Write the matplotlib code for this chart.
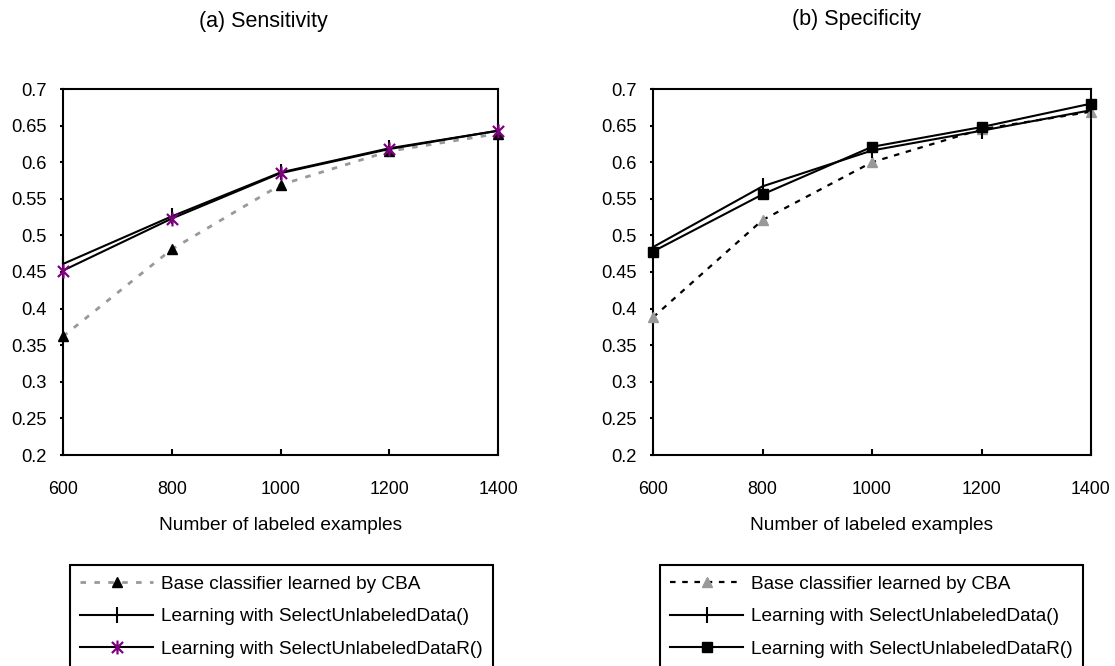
import numpy as np
import matplotlib
matplotlib.use("Agg")
import matplotlib.pyplot as plt
from matplotlib.path import Path
from matplotlib.ticker import FuncFormatter, FixedLocator

plt.rcParams['font.family'] = ['Liberation Sans', 'DejaVu Sans']

# ---------------- data ----------------
n_labeled = [600, 800, 1000, 1200, 1400]

sens_cba = [0.362, 0.481, 0.569, 0.615, 0.639]
sens_sud = [0.461, 0.526, 0.586, 0.619, 0.643]
sens_sudr = [0.452, 0.523, 0.585, 0.618, 0.643]

spec_cba = [0.388, 0.521, 0.600, 0.645, 0.669]
spec_sud = [0.484, 0.567, 0.616, 0.643, 0.671]
spec_sudr = [0.478, 0.556, 0.621, 0.648, 0.680]

legend_labels = ["Base classifier learned by CBA",
                 "Learning with SelectUnlabeledData()",
                 "Learning with SelectUnlabeledDataR()"]
titles = ["(a) Sensitivity", "(b) Specificity"]
xlabel = "Number of labeled examples"
yticks = [0.2, 0.25, 0.3, 0.35, 0.4, 0.45, 0.5, 0.55, 0.6, 0.65, 0.7]

# ---------------- layout ----------------
W, H = 1115, 666
fig = plt.figure(figsize=(W / 100, H / 100), dpi=100)

def fx(px):
    return px / W

def fy(py):
    return 1 - py / H

ax1 = fig.add_axes([fx(63), fy(455), fx(498 - 63), (455 - 89) / H])
ax2 = fig.add_axes([fx(653), fy(455), fx(1091 - 653), (455 - 89) / H])

# asterisk marker (X plus vertical bar)
ast_path = Path([(-1, -1), (1, 1), (-1, 1), (1, -1), (0, -1.25), (0, 1.25)],
                [Path.MOVETO, Path.LINETO, Path.MOVETO, Path.LINETO,
                 Path.MOVETO, Path.LINETO])

purple = '#800080'
gray = '#999999'

# left panel
h1a, = ax1.plot(n_labeled, sens_cba, color=gray, lw=2.0, ls=(0, (2.0, 3.0)),
                marker='^', ms=7.5, mfc='black', mec='black', clip_on=False, zorder=3)
h1b, = ax1.plot(n_labeled, sens_sud, color='black', lw=1.5,
                marker='|', ms=12, mew=1.5, mec='black', clip_on=False, zorder=4)
h1c, = ax1.plot(n_labeled, sens_sudr, color='black', lw=1.5,
                marker=ast_path, ms=10, mew=1.6, mec=purple, mfc='none',
                clip_on=False, zorder=5)

# right panel
h2a, = ax2.plot(n_labeled, spec_cba, color='black', lw=1.6, ls=(0, (2.5, 3.0)),
                marker='^', ms=7.5, mfc=gray, mec=gray, clip_on=False, zorder=3)
h2b, = ax2.plot(n_labeled, spec_sud, color='black', lw=1.5,
                marker='|', ms=12, mew=1.5, mec='black', clip_on=False, zorder=4)
h2c, = ax2.plot(n_labeled, spec_sudr, color='black', lw=1.5,
                marker='s', ms=7.5, mfc='black', mec='black', clip_on=False, zorder=5)

fmt = FuncFormatter(lambda v, p: f"{round(v, 2):g}")
for ax in (ax1, ax2):
    ax.set_xlim(600, 1400)
    ax.set_ylim(0.2, 0.7)
    ax.xaxis.set_major_locator(FixedLocator(n_labeled))
    ax.yaxis.set_major_locator(FixedLocator(yticks))
    ax.yaxis.set_major_formatter(fmt)
    for s in ax.spines.values():
        s.set_linewidth(1.5)
        s.set_color('black')
    ax.tick_params(axis='x', direction='in', length=4.5, width=1.5,
                   labelsize=12.8, pad=18.5, top=False)
    ax.tick_params(axis='y', direction='out', length=2.5, width=1.5,
                   labelsize=13.2, pad=9, right=False)
    ax.set_xlabel(xlabel, fontsize=13.8, labelpad=14)

fig.text(fx(263), fy(21), titles[0], fontsize=15.5, ha='center', va='center')
fig.text(fx(856), fy(20), titles[1], fontsize=15.5, ha='center', va='center')

leg_kw = dict(loc='upper left', bbox_transform=fig.transFigure, borderaxespad=0,
              fontsize=13.7, frameon=True, fancybox=False, shadow=False,
              handlelength=3.8, handletextpad=0.45, labelspacing=0.8,
              borderpad=0.55, numpoints=1, framealpha=1)
l1 = ax1.legend([h1a, h1b, h1c], legend_labels, bbox_to_anchor=(fx(70), fy(565)), **leg_kw)
l2 = ax2.legend([h2a, h2b, h2c], legend_labels, bbox_to_anchor=(fx(660), fy(565)), **leg_kw)
for l in (l1, l2):
    fr = l.get_frame()
    fr.set_edgecolor('black')
    fr.set_linewidth(1.5)
    l.set_clip_on(False)

fig.savefig("out.png", dpi=100)
